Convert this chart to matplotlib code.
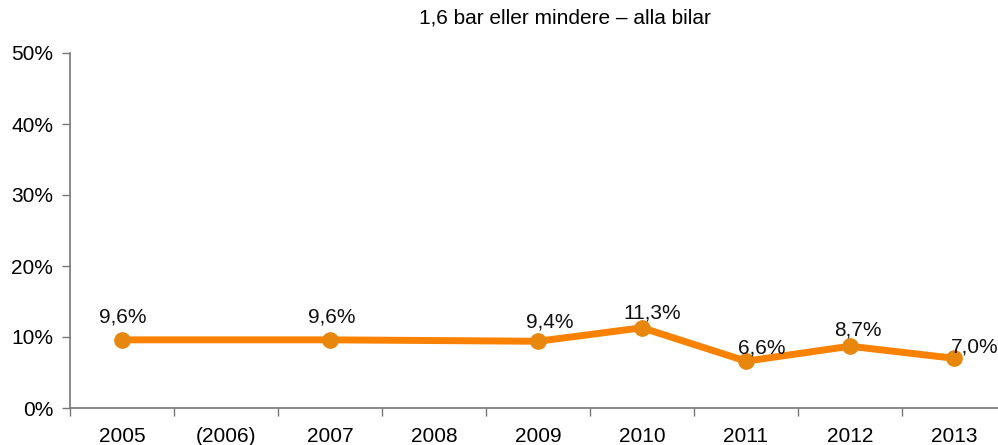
import matplotlib.pyplot as plt
from matplotlib.ticker import FuncFormatter, FixedLocator

# data
categories = ["2005", "(2006)", "2007", "2008", "2009", "2010", "2011", "2012", "2013"]
point_years = ["2005", "2007", "2009", "2010", "2011", "2012", "2013"]
share = [9.6, 9.6, 9.4, 11.3, 6.6, 8.7, 7.0]
labels = ["9,6%", "9,6%", "9,4%", "11,3%", "6,6%", "8,7%", "7,0%"]

# label nudges in pixels (dx, dy) to follow the original placement
nudges = [(1, 23), (2, 23), (12, 19), (10, 15), (16, 13), (8, 16), (21, 11)]

plt.rcParams['font.family'] = ['Liberation Sans', 'DejaVu Sans']

fig = plt.figure(figsize=(9.98, 4.45), dpi=100)
ax = fig.add_axes([70 / 998, 1 - 408 / 445, 928 / 998, 355 / 445])

xs = [categories.index(y) for y in point_years]
ax.plot(xs, share, color="#FA8200", lw=5, zorder=2, solid_capstyle="round")
ax.plot(xs, share, ls="none", marker="o", ms=11, color="#E8870E", zorder=3)

for x, v, lab, (dx, dy) in zip(xs, share, labels, nudges):
    ax.annotate(lab, (x, v), xytext=(dx * 0.72, dy * 0.72), textcoords="offset points",
                ha="center", va="center", fontsize=15, color="#111111")

ax.set_xlim(-0.5, -0.5 + 928 / 104)
ax.set_ylim(0, 50)
ax.set_yticks(range(0, 51, 10))
ax.yaxis.set_major_formatter(FuncFormatter(lambda v, p: f"{int(v)}%"))

ax.set_xticks(range(len(categories)))
ax.set_xticklabels(categories)
ax.xaxis.set_minor_locator(FixedLocator([i - 0.5 for i in range(len(categories) + 1)]))

ax.tick_params(axis="x", which="major", length=0, pad=14, labelsize=15)
ax.tick_params(axis="x", which="minor", length=6, color="#777777", width=1)
ax.tick_params(axis="y", length=6, color="#777777", width=1, labelsize=15, pad=6)

for s in ["top", "right"]:
    ax.spines[s].set_visible(False)
for s in ["left", "bottom"]:
    ax.spines[s].set_color("#777777")
    ax.spines[s].set_linewidth(1.2)

fig.text(565 / 998, 1 - 18 / 445, "1,6 bar eller mindere – alla bilar",
         ha="center", va="center", fontsize=15)

fig.savefig("out.png", dpi=100)
